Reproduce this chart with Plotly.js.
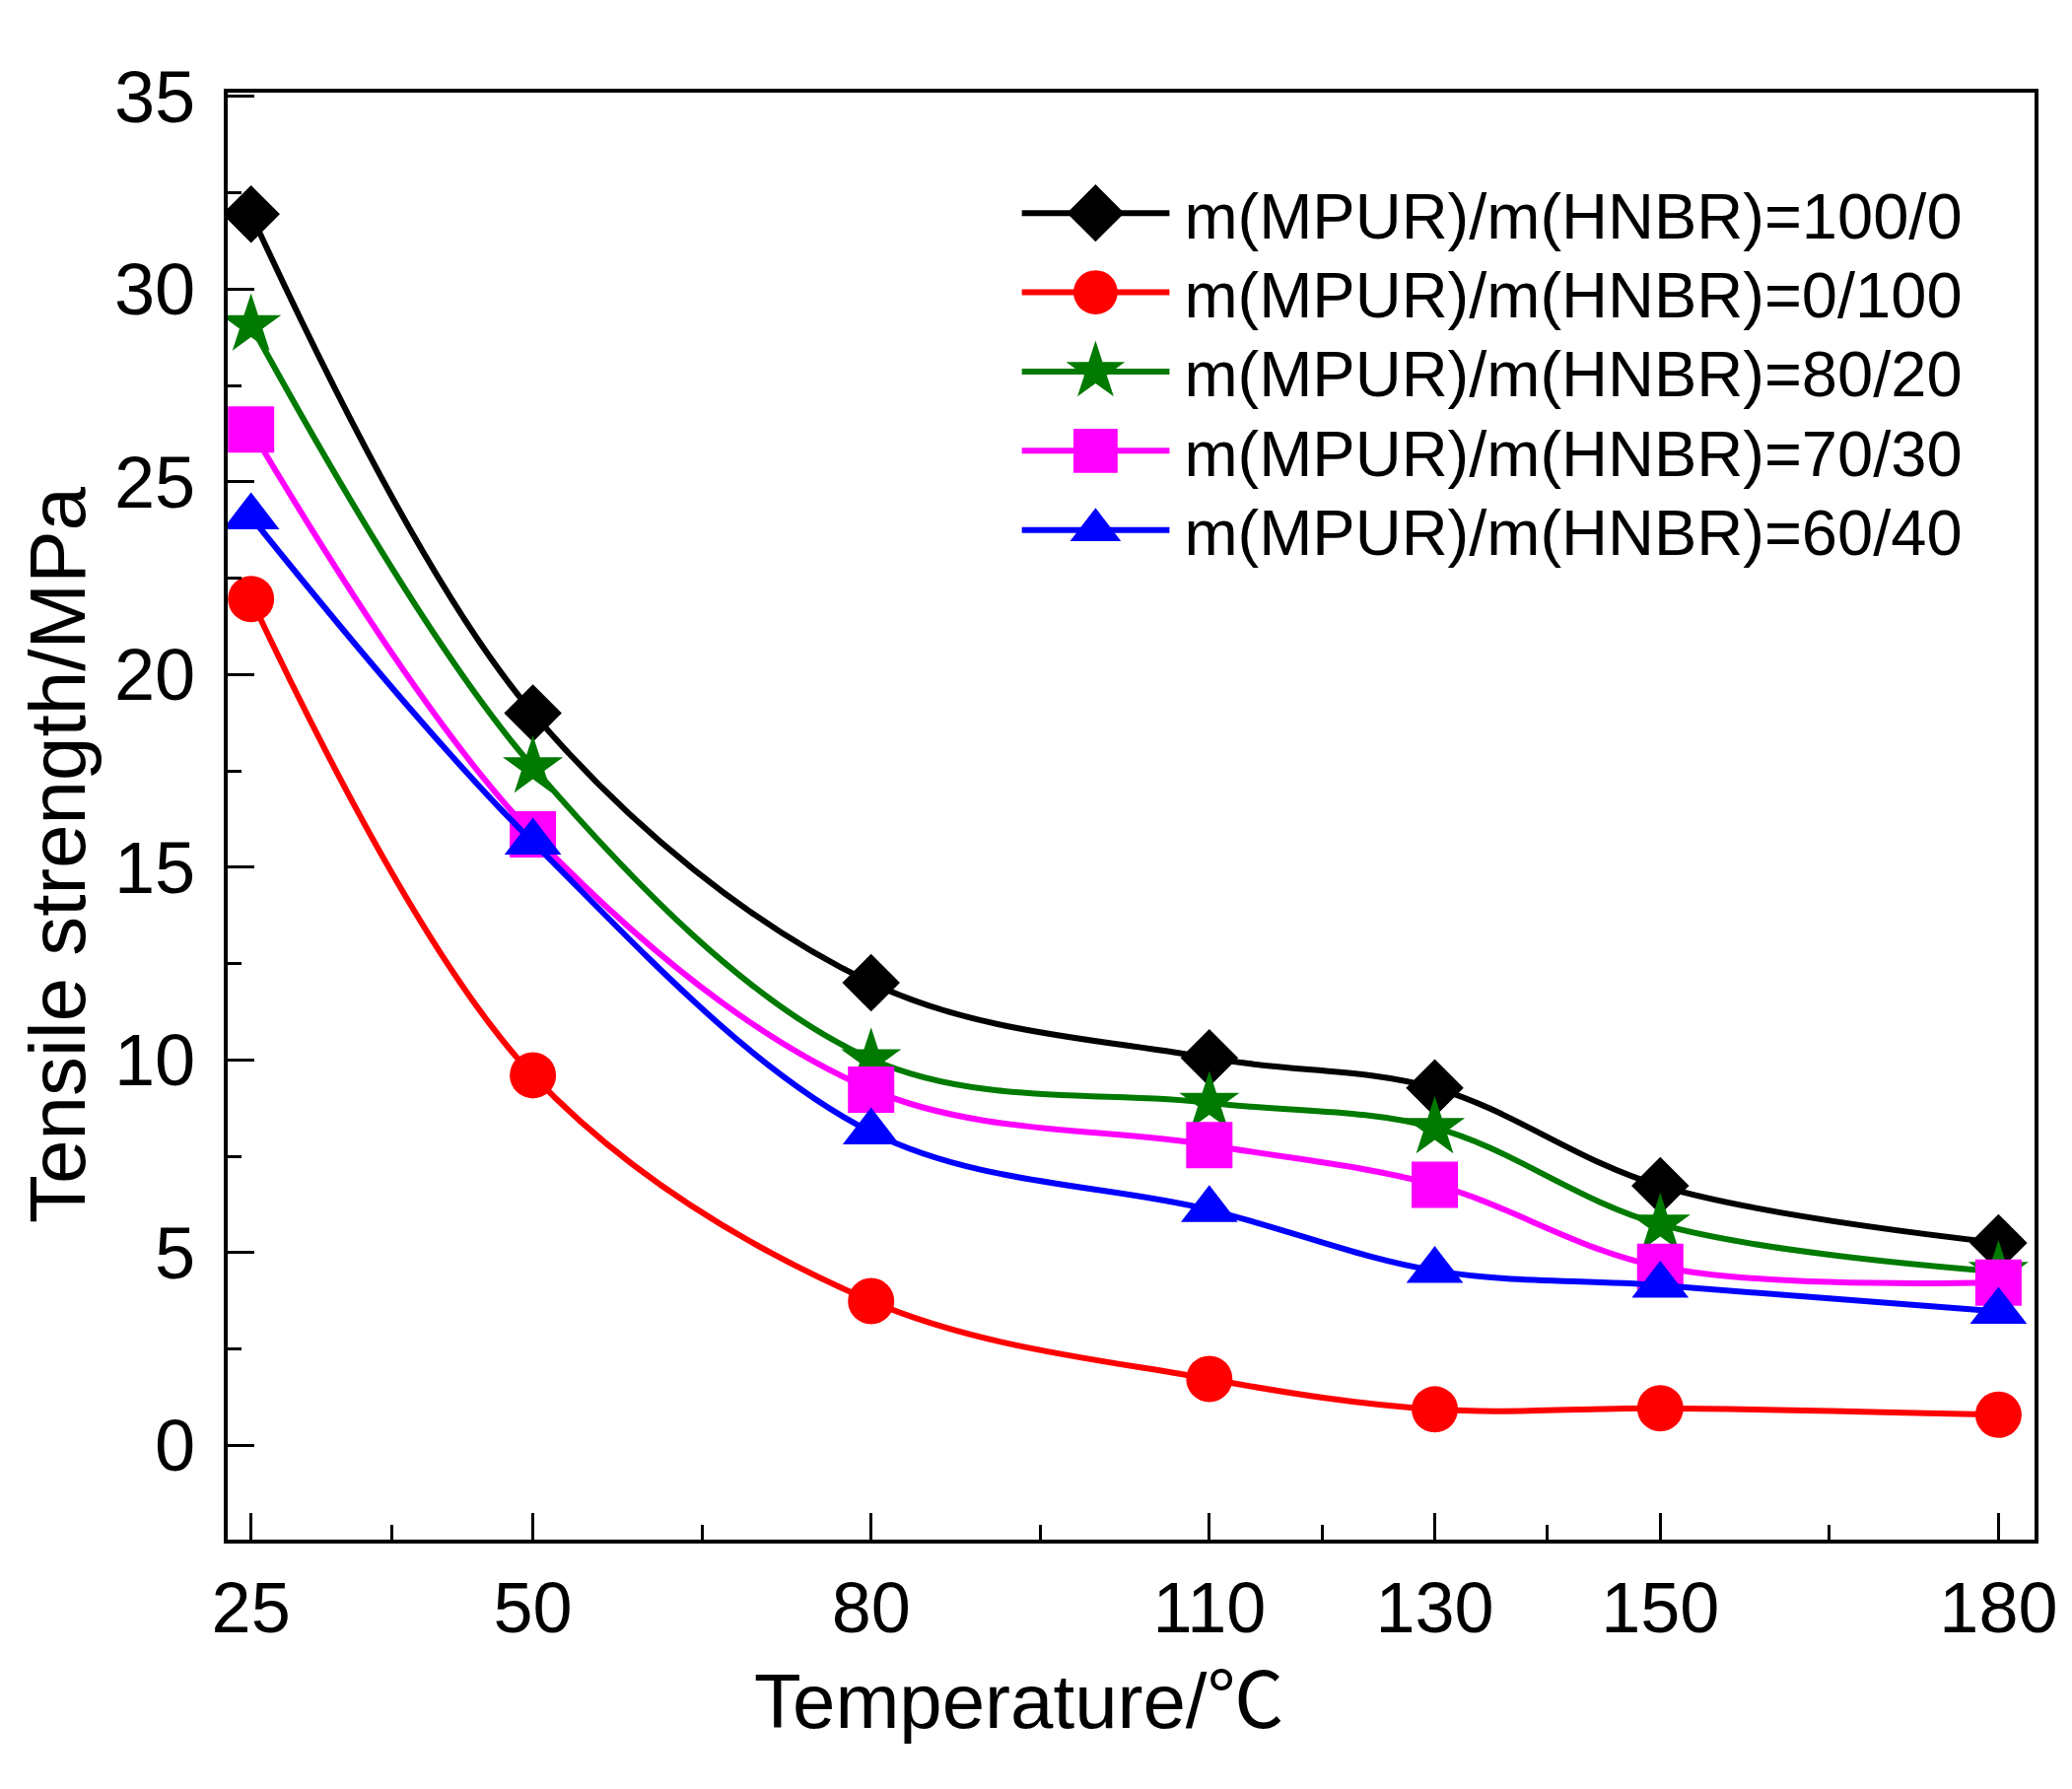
<!DOCTYPE html>
<html>
<head>
<meta charset="utf-8">
<script src="https://cdn.plot.ly/plotly-3.0.1.min.js"></script>
<style>
    html, body { margin:0; padding:0; background:#fff; }
    #tensileChart { width:2102px; height:1815px; }
</style>
</head>
<body>

<div id="tensileChart"></div>

<script>

// ==========================================================
// DATA
// ==========================================================

let temperature = [25, 50, 80, 110, 130, 150, 180];

let ratio100_0 = [31.95, 19.0, 12.0, 10.05, 9.27, 6.73, 5.25];
let ratio0_100 = [21.96, 9.6, 3.74, 1.72, 0.93, 0.96, 0.79];
let ratio80_20 = [29.07, 17.6, 10.02, 8.89, 8.24, 5.73, 4.5];
let ratio70_30 = [26.36, 15.85, 9.23, 7.79, 6.76, 4.63, 4.22];
let ratio60_40 = [24.09, 15.65, 8.13, 6.11, 4.53, 4.15, 3.47];

let seriesNames = [
    "m(MPUR)/m(HNBR)=100/0",
    "m(MPUR)/m(HNBR)=0/100",
    "m(MPUR)/m(HNBR)=80/20",
    "m(MPUR)/m(HNBR)=70/30",
    "m(MPUR)/m(HNBR)=60/40"
];

let xMajorTicks = [25, 50, 80, 110, 130, 150, 180];
let xMinorTicks = [37.5, 65, 95, 120, 140, 165];


// ==========================================================
// TRACES
// ==========================================================

function makeTrace(name, values, color, symbol, size){

    return {
        x: temperature,
        y: values,
        name: name,
        type: "scatter",
        mode: "lines+markers",
        line: { color: color, width: 6, shape: "spline", smoothing: 1 },
        marker: { color: color, symbol: symbol, size: size }
    };

}


let traces = [
    makeTrace(seriesNames[0], ratio100_0, "#000000", "diamond", 45),
    makeTrace(seriesNames[1], ratio0_100, "#ff0000", "circle", 47),
    makeTrace(seriesNames[2], ratio80_20, "#007a00", "star", 46),
    makeTrace(seriesNames[3], ratio70_30, "#ff00ff", "square", 47),
    makeTrace(seriesNames[4], ratio60_40, "#0000ff", "triangle-up", 50)
];


// ==========================================================
// LAYOUT
// ==========================================================

let fontFamily = "'Liberation Sans', Arial, sans-serif";

let layout = {

    width: 2102,
    height: 1815,
    margin: { l: 231, r: 38, t: 94, b: 253 },
    paper_bgcolor: "#ffffff",
    plot_bgcolor: "#ffffff",
    font: { family: fontFamily, color: "#000000", size: 65 },
    showlegend: true,

    legend: {
        x: 0.4394,
        y: 0.95,
        xanchor: "left",
        yanchor: "top",
        bgcolor: "rgba(0,0,0,0)",
        font: { family: fontFamily, size: 65, color: "#000000" },
        itemwidth: 155
    },

    xaxis: {
        range: [22.93, 183.2],
        tickmode: "array",
        tickvals: xMajorTicks,
        ticktext: xMajorTicks.map(String),
        ticks: "inside",
        ticklen: 27,
        tickwidth: 3,
        tickcolor: "#000000",
        minor: {
            tickmode: "array",
            tickvals: xMinorTicks,
            ticks: "inside",
            ticklen: 15,
            tickwidth: 3,
            tickcolor: "#000000"
        },
        showline: true,
        linecolor: "#000000",
        linewidth: 4,
        mirror: true,
        showgrid: false,
        zeroline: false,
        ticklabelstandoff: 4,
        tickfont: { family: fontFamily, size: 72, color: "#000000" }
    },

    yaxis: {
        range: [-2.45, 35.1],
        tickmode: "linear",
        tick0: 0,
        dtick: 5,
        ticks: "inside",
        ticklen: 27,
        tickwidth: 3,
        tickcolor: "#000000",
        minor: {
            tickmode: "linear",
            tick0: 0,
            dtick: 2.5,
            ticks: "inside",
            ticklen: 14,
            tickwidth: 3,
            tickcolor: "#000000"
        },
        showline: true,
        linecolor: "#000000",
        linewidth: 4,
        mirror: true,
        showgrid: false,
        zeroline: false,
        ticklabelstandoff: 14,
        tickfont: { family: fontFamily, size: 74, color: "#000000" }
    },

    // both axis titles sit off the plot centre in the original, so place them by hand
    annotations: [
        {
            text: "Temperature/<span style='font-family:\"Noto Sans CJK SC\"'>℃</span>",
            xref: "paper",
            yref: "paper",
            x: 0.438,
            y: -0.107,
            xanchor: "center",
            yanchor: "middle",
            showarrow: false,
            font: { family: fontFamily, size: 78, color: "#000000" }
        },
        {
            text: "Tensile strength/MPa",
            xref: "paper",
            yref: "paper",
            x: -0.0944,
            y: 0.4734,
            xanchor: "center",
            yanchor: "middle",
            textangle: -90,
            showarrow: false,
            font: { family: fontFamily, size: 80, color: "#000000" }
        }
    ]

};


// ==========================================================
// DRAW
// ==========================================================

Plotly.newPlot("tensileChart", traces, layout, { displayModeBar: false, staticPlot: true })
.then(function(){

    // legend samples as in the original: long line, full size marker, tighter rows
    let items = document.querySelectorAll("#tensileChart .legend .traces");

    let rowGap = 80.4;
    let firstY = null;

    items.forEach(function(item, i){

        let pos = (item.getAttribute("transform") || "").match(/translate\(([-\d.]+)[ ,]+([-\d.]+)\)/);

        if(pos){
            if(firstY === null){ firstY = parseFloat(pos[2]); }
            item.setAttribute("transform", "translate(" + pos[1] + "," + (firstY + i*rowGap) + ")");
        }

        let line = item.querySelector(".legendlines path");

        if(line){
            line.setAttribute("d", "M0,0h150");
            line.style.strokeWidth = "6px";
        }

        let point = item.querySelector(".legendsymbols path.scatterpts");

        if(point){
            point.setAttribute("transform", "translate(75,0) scale(2.8)");
        }

    });

});

</script>
</body>
</html>
